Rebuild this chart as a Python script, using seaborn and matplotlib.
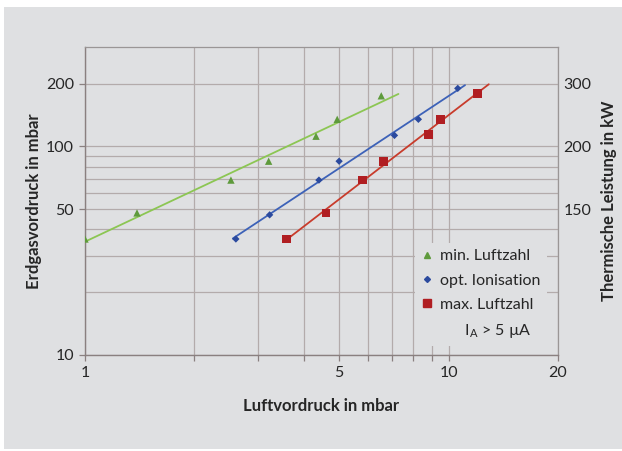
import numpy as np
import pandas as pd
import matplotlib.pyplot as plt
import seaborn as sns
from matplotlib.lines import Line2D
from matplotlib.patches import Rectangle

x_min = [1.0, 1.39, 2.52, 3.2, 4.32, 4.94, 6.53]
y_min = [36, 48, 69, 85, 112, 135, 175]
x_opt = [2.6, 3.22, 4.4, 5.0, 7.1, 8.26, 10.6]
y_opt = [36, 47, 69, 85, 113, 135, 190]
x_max = [3.59, 4.6, 5.79, 6.61, 8.8, 9.5, 12.0]
y_max = [36, 48, 69, 85, 114, 135, 179]

# Bereich der Trendlinien (Potenzfunktion)
trend_min = [1.0, 7.28]
trend_opt = [2.55, 11.1]
trend_max = [3.6, 12.9]

x_major = [1, 5, 10, 20]
x_minor = [2, 3, 4, 6, 7, 8, 9]
y_major = [10, 50, 100, 200]
y_minor = [20, 30, 40, 60, 70, 80, 90]
right_pos = [50, 100, 200]
right_labels = ["150", "200", "300"]

labels = ["min. Luftzahl", "opt. Ionisation", "max. Luftzahl"]

bg = "#dfe0e2"
grid_c = "#b3abab"
txt = "#262626"

sns.set_theme(style="ticks")
plt.rcParams["font.family"] = ["Lato", "DejaVu Sans"]
plt.rcParams["mathtext.default"] = "regular"

fig = plt.figure(figsize=(6.22, 4.51), dpi=100, facecolor="white")
fig.patches.append(Rectangle((4 / 622, 2 / 451), 1 - 4 / 622, 442 / 451,
                             transform=fig.transFigure, facecolor=bg,
                             edgecolor="none", zorder=-10))
ax = fig.add_axes([85 / 622, 1 - 355 / 451, 473 / 622, 308 / 451])
ax.set_facecolor(bg)


def trend(xs, ys, rng):
    b, a = np.polyfit(np.log10(xs), np.log10(ys), 1)
    xx = np.geomspace(rng[0], rng[1], 50)
    return pd.DataFrame({"x": xx, "y": 10 ** (a + b * np.log10(xx))})


series = [
    (x_min, y_min, trend_min, "#8cc653", "#5e9a3c", "^", 28),
    (x_opt, y_opt, trend_opt, "#3d62b8", "#2b4a9e", "D", 14),
    (x_max, y_max, trend_max, "#c83c2c", "#b01e22", "s", 40),
]

for xs, ys, rng, lc, mc, mk, ms in series:
    t = trend(xs, ys, rng)
    sns.lineplot(data=t, x="x", y="y", ax=ax, color=lc, linewidth=1.3, zorder=3)
    sns.scatterplot(x=xs, y=ys, ax=ax, color=mc, marker=mk, s=ms,
                    edgecolor="none", zorder=4)

ax.set_xscale("log")
ax.set_yscale("log")
ax.set_xlim(1, 20)
ax.set_ylim(10, 300)

ax.set_xticks(x_major)
ax.set_xticklabels([str(v) for v in x_major])
ax.set_xticks(x_minor, minor=True)
ax.set_xticklabels([], minor=True)
ax.set_yticks(y_major)
ax.set_yticklabels([str(v) for v in y_major])
ax.set_yticks(y_minor, minor=True)
ax.set_yticklabels([], minor=True)

ax.grid(True, which="both", color=grid_c, linewidth=0.9)
ax.set_axisbelow(True)
ax.tick_params(axis="both", which="major", length=4, width=0.9,
               color="#8a8080", labelsize=11.5, labelcolor=txt, pad=4)
ax.tick_params(axis="x", which="minor", length=4, width=0.9, color="#8a8080")
ax.tick_params(axis="y", which="minor", length=0)

for side in ["left", "bottom"]:
    ax.spines[side].set_color("#8a8080")
    ax.spines[side].set_linewidth(1.0)
for side in ["top", "right"]:
    ax.spines[side].set_visible(True)
    ax.spines[side].set_color("#9a9696")
    ax.spines[side].set_linewidth(0.9)

ax.set_xlabel("Luftvordruck in mbar", fontsize=12, fontweight="bold",
              color=txt, labelpad=13)
ax.set_ylabel("Erdgasvordruck in mbar", fontsize=12, fontweight="bold",
              color=txt, labelpad=3)

ax2 = ax.twinx()
ax2.set_yscale("log")
ax2.set_ylim(10, 300)
ax2.set_yticks(right_pos)
ax2.set_yticklabels(right_labels)
ax2.set_yticks([], minor=True)
ax2.tick_params(axis="y", length=0, labelsize=11.5, labelcolor=txt, pad=4)
for s in ax2.spines.values():
    s.set_visible(False)
ax2.set_ylabel("Thermische Leistung in kW", fontsize=12, fontweight="bold",
               color=txt, labelpad=7)

handles = [
    Line2D([], [], linestyle="none", marker="^", color="#5e9a3c", markersize=4.5),
    Line2D([], [], linestyle="none", marker="D", color="#2b4a9e", markersize=3),
    Line2D([], [], linestyle="none", marker="s", color="#b01e22", markersize=6),
    Line2D([], [], linestyle="none"),
]
leg = ax2.legend(handles, labels + ["      I$_A$ > 5 µA"], loc="upper left",
                 bbox_to_anchor=(0.68, 0.39), frameon=True, fontsize=11.5,
                 handlelength=0.8, handletextpad=0.4, labelspacing=0.62,
                 borderpad=0.4, facecolor=bg, edgecolor="none", framealpha=1)
for t in leg.get_texts():
    t.set_color(txt)

fig.savefig("out.png", dpi=100, facecolor="white")
